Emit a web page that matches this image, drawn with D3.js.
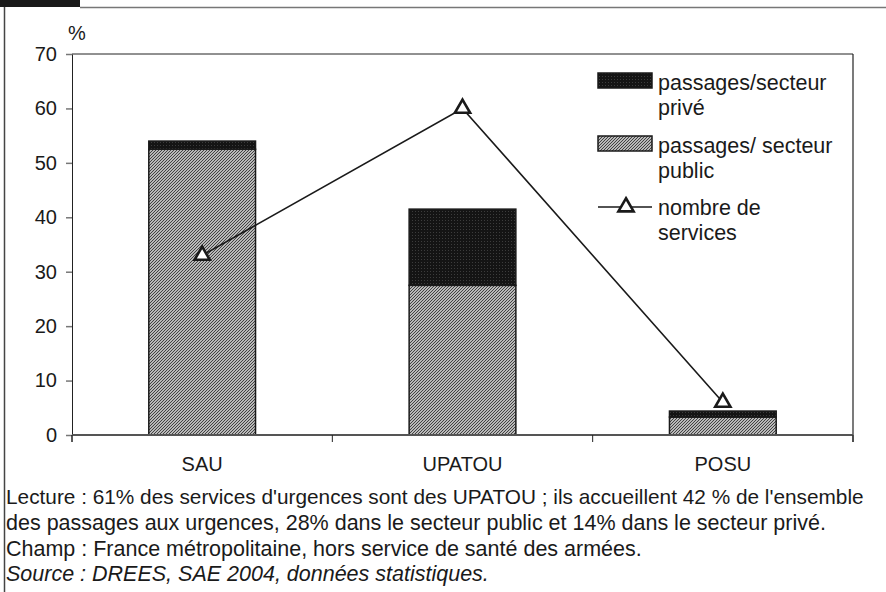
<!DOCTYPE html>
<html>
<head>
<meta charset="utf-8">
<script src="https://cdn.jsdelivr.net/npm/d3@7"></script>
<style>
  body { margin: 0; background: #fff; }
  text { font-family: "Liberation Sans", Arial, sans-serif; fill: #1a1a1a; }
</style>
</head>
<body>
<script>

let width = 886;
let height = 592;

// data
let categories = ["SAU", "UPATOU", "POSU"];
let publicValues = [52.5, 27.5, 3.3];
let priveValues = [1.5, 14, 1.1];
let servicesValues = [33, 60, 6];
let yTicks = [0, 10, 20, 30, 40, 50, 60, 70];
let notes = [
    "Lecture : 61% des services d'urgences sont des UPATOU ; ils accueillent 42 % de l'ensemble",
    "des passages aux urgences, 28% dans le secteur public et 14% dans le secteur privé.",
    "Champ : France métropolitaine, hors service de santé des armées.",
    "Source : DREES, SAE 2004, données statistiques."
];

let plotLeft = 72, plotRight = 853, plotTop = 54, plotBottom = 435;

let svg = d3.select("body").append("svg")
    .attr("width", width)
    .attr("height", height);

// patterns
let defs = svg.append("defs");
let pub = defs.append("pattern")
    .attr("id", "pub")
    .attr("patternUnits", "userSpaceOnUse")
    .attr("width", 3).attr("height", 3);
pub.append("rect").attr("width", 3).attr("height", 3).attr("fill", "#ececec");
pub.append("path")
    .attr("d", "M-1,1 L1,-1 M0,3 L3,0 M2,4 L4,2")
    .attr("stroke", "#3a3a3a").attr("stroke-width", 1.1);

let prv = defs.append("pattern")
    .attr("id", "prv")
    .attr("patternUnits", "userSpaceOnUse")
    .attr("width", 3).attr("height", 3);
prv.append("rect").attr("width", 3).attr("height", 3).attr("fill", "#141414");
prv.append("rect").attr("x", 1).attr("y", 1).attr("width", 1).attr("height", 1).attr("fill", "#3c3c3c");

// outer frame
svg.append("rect").attr("x", 0).attr("y", 0).attr("width", 80).attr("height", 7).attr("fill", "#1a1a1a");
svg.append("line").attr("x1", 80).attr("x2", width).attr("y1", 7.5).attr("y2", 7.5)
    .attr("stroke", "#777").attr("stroke-width", 1.5);
svg.append("line").attr("x1", 4.5).attr("x2", 4.5).attr("y1", 7).attr("y2", height)
    .attr("stroke", "#444").attr("stroke-width", 1.5);

let x = d3.scaleBand()
    .domain(categories)
    .range([plotLeft, plotRight]);

let y = d3.scaleLinear()
    .domain([0, 70])
    .range([plotBottom, plotTop]);

let barW = x.bandwidth() * 0.41;

// plot frame top and right
svg.append("line").attr("x1", plotLeft).attr("x2", plotRight).attr("y1", y(70)).attr("y2", y(70))
    .attr("stroke", "#222").attr("stroke-width", 1);
svg.append("line").attr("x1", plotRight).attr("x2", plotRight).attr("y1", y(70)).attr("y2", plotBottom + 7)
    .attr("stroke", "#222").attr("stroke-width", 1.2);

// y axis
let yAxis = svg.append("g")
    .attr("transform", "translate(" + plotLeft + ",0)")
    .call(d3.axisLeft(y).tickValues(yTicks).tickSize(6).tickSizeOuter(0).tickPadding(9));
yAxis.select(".domain").attr("stroke", "#222");
yAxis.selectAll(".tick line").attr("stroke", "#777").attr("stroke-width", 1.5);
yAxis.selectAll(".tick text").style("font-size", "20px").attr("fill", "#1a1a1a");
svg.append("line").attr("x1", plotLeft).attr("x2", plotLeft).attr("y1", plotBottom).attr("y2", plotBottom + 7)
    .attr("stroke", "#222");

svg.append("text").attr("x", 68).attr("y", 40).style("font-size", "20px").text("%");

// bars
let g = svg.append("g");
categories.forEach(function (c, i) {
    let cx = x(c) + x.bandwidth() / 2;
    g.append("rect")
        .attr("x", cx - barW / 2)
        .attr("width", barW)
        .attr("y", y(publicValues[i]))
        .attr("height", y(0) - y(publicValues[i]))
        .attr("fill", "url(#pub)")
        .attr("stroke", "#1a1a1a").attr("stroke-width", 1.5);
    g.append("rect")
        .attr("x", cx - barW / 2)
        .attr("width", barW)
        .attr("y", y(publicValues[i] + priveValues[i]))
        .attr("height", y(publicValues[i]) - y(publicValues[i] + priveValues[i]))
        .attr("fill", "url(#prv)")
        .attr("stroke", "#1a1a1a").attr("stroke-width", 1.5);
});

// x axis
svg.append("line").attr("x1", plotLeft).attr("x2", plotRight).attr("y1", plotBottom).attr("y2", plotBottom)
    .attr("stroke", "#555").attr("stroke-width", 2);
let bounds = categories.map(function (c) { return x(c); }).concat([plotRight]);
svg.selectAll(".xtick").data(bounds).enter().append("line")
    .attr("x1", function (d) { return d; }).attr("x2", function (d) { return d; })
    .attr("y1", plotBottom).attr("y2", plotBottom + 7)
    .attr("stroke", "#222");
let xAxis = svg.append("g")
    .attr("transform", "translate(0," + plotBottom + ")")
    .call(d3.axisBottom(x).tickSize(0).tickPadding(22));
xAxis.select(".domain").remove();
xAxis.selectAll(".tick text").style("font-size", "20px").attr("fill", "#1a1a1a");

// line of services
let line = d3.line()
    .x(function (d, i) { return x(categories[i]) + x.bandwidth() / 2; })
    .y(function (d) { return y(d); });
svg.append("path")
    .datum(servicesValues)
    .attr("d", line)
    .attr("fill", "none")
    .attr("stroke", "#1a1a1a")
    .attr("stroke-width", 1.6);
let tri = d3.symbol().type(d3.symbolTriangle).size(100);
svg.selectAll(".mark").data(servicesValues).enter().append("path")
    .attr("d", tri)
    .attr("transform", function (d, i) {
        return "translate(" + (x(categories[i]) + x.bandwidth() / 2) + "," + y(d) + ")";
    })
    .attr("fill", "#fff")
    .attr("stroke", "#1a1a1a")
    .attr("stroke-width", 2.6);

// legend
let lg = svg.append("g").attr("transform", "translate(598,0)");
lg.append("rect").attr("x", 0).attr("y", 73).attr("width", 54).attr("height", 15)
    .attr("fill", "url(#prv)").attr("stroke", "#1a1a1a").attr("stroke-width", 1.5);
lg.append("rect").attr("x", 0).attr("y", 136).attr("width", 54).attr("height", 15)
    .attr("fill", "url(#pub)").attr("stroke", "#1a1a1a").attr("stroke-width", 1.5);
lg.append("line").attr("x1", 0).attr("x2", 54).attr("y1", 207).attr("y2", 207)
    .attr("stroke", "#1a1a1a").attr("stroke-width", 1.6);
lg.append("path").attr("d", tri).attr("transform", "translate(28,207)")
    .attr("fill", "#fff").attr("stroke", "#1a1a1a").attr("stroke-width", 2.6);
let legendLabels = [["passages/secteur", "privé"], ["passages/ secteur", "public"], ["nombre de", "services"]];
let legendY = [82, 145, 207];
legendLabels.forEach(function (lines, i) {
    lines.forEach(function (t, j) {
        lg.append("text")
            .attr("x", 60)
            .attr("y", legendY[i] + j * 25)
            .attr("dy", "0.35em")
            .style("font-size", "21.5px")
            .text(t);
    });
});

// notes (first line slightly smaller so it stays inside the page)
notes.forEach(function (t, i) {
    svg.append("text")
        .attr("x", 6)
        .attr("y", 497 + i * 25.5)
        .attr("dy", "0.35em")
        .style("font-size", i === 0 ? "20.8px" : "21.5px")
        .style("font-style", i === 3 ? "italic" : "normal")
        .text(t);
});

</script>
</body>
</html>
